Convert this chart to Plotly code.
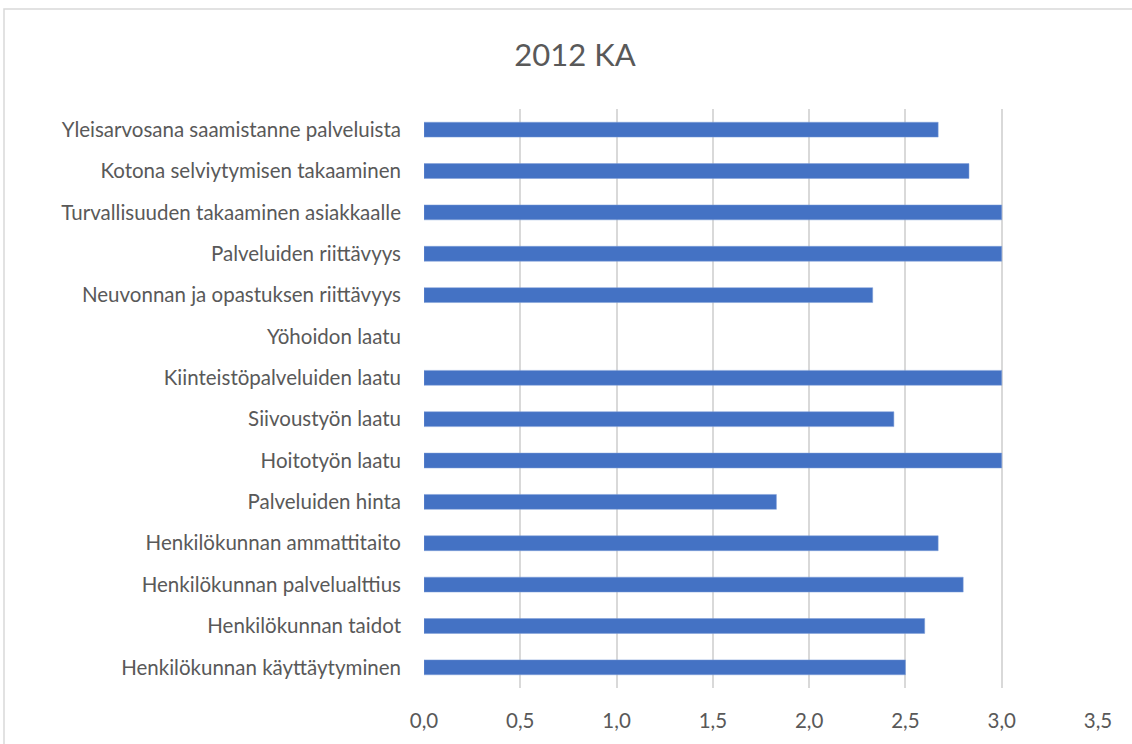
import plotly.graph_objects as go

categories = [
    "Yleisarvosana saamistanne palveluista",
    "Kotona selviytymisen takaaminen",
    "Turvallisuuden takaaminen asiakkaalle",
    "Palveluiden riittävyys",
    "Neuvonnan ja opastuksen riittävyys",
    "Yöhoidon laatu",
    "Kiinteistöpalveluiden laatu",
    "Siivoustyön laatu",
    "Hoitotyön laatu",
    "Palveluiden hinta",
    "Henkilökunnan ammattitaito",
    "Henkilökunnan palvelualttius",
    "Henkilökunnan taidot",
    "Henkilökunnan käyttäytyminen",
]
values = [2.67, 2.83, 3.0, 3.0, 2.33, None, 3.0, 2.44, 3.0, 1.83, 2.67, 2.8, 2.6, 2.5]
tick_vals = [0, 0.5, 1.0, 1.5, 2.0, 2.5, 3.0, 3.5]
tick_text = ["0,0", "0,5", "1,0", "1,5", "2,0", "2,5", "3,0", "3,5"]

fig = go.Figure(go.Bar(
    y=categories, x=values, orientation="h",
    marker=dict(color="#4472c4", line=dict(color="#7f9fd8", width=0.5)),
))

fig.update_layout(
    width=1132, height=744,
    margin=dict(l=424, r=34, t=109, b=56),
    paper_bgcolor="white", plot_bgcolor="white",
    bargap=0.64,
    showlegend=False,
    font=dict(family="Lato, Open Sans, sans-serif", color="#595959", size=20.5),
    title=dict(text="2012 KA", x=575 / 1132, xref="container", xanchor="center",
               y=1 - 55 / 744, yref="container", yanchor="middle",
               font=dict(size=31, color="#595959")),
    xaxis=dict(range=[0, 3.5], tickvals=tick_vals, ticktext=tick_text,
               showgrid=True, gridcolor="#d9d9d9", gridwidth=1.5,
               zeroline=False, showline=False, ticks="",
               ticklabelstandoff=18, fixedrange=True),
    yaxis=dict(autorange="reversed", showgrid=False, zeroline=False,
               showline=False, ticks="", ticklabelstandoff=22, type="category"),
    shapes=[dict(type="rect", xref="paper", yref="paper",
                 x0=(4 - 424) / 674, x1=1.2, y0=-0.3, y1=(688 - 9) / 579,
                 line=dict(color="#d9d9d9", width=1.5), layer="below")],
)

fig.write_html("out.html",
               config={"displayModeBar": False},
               post_script="document.body.style.margin='0';document.body.style.overflow='hidden';")
